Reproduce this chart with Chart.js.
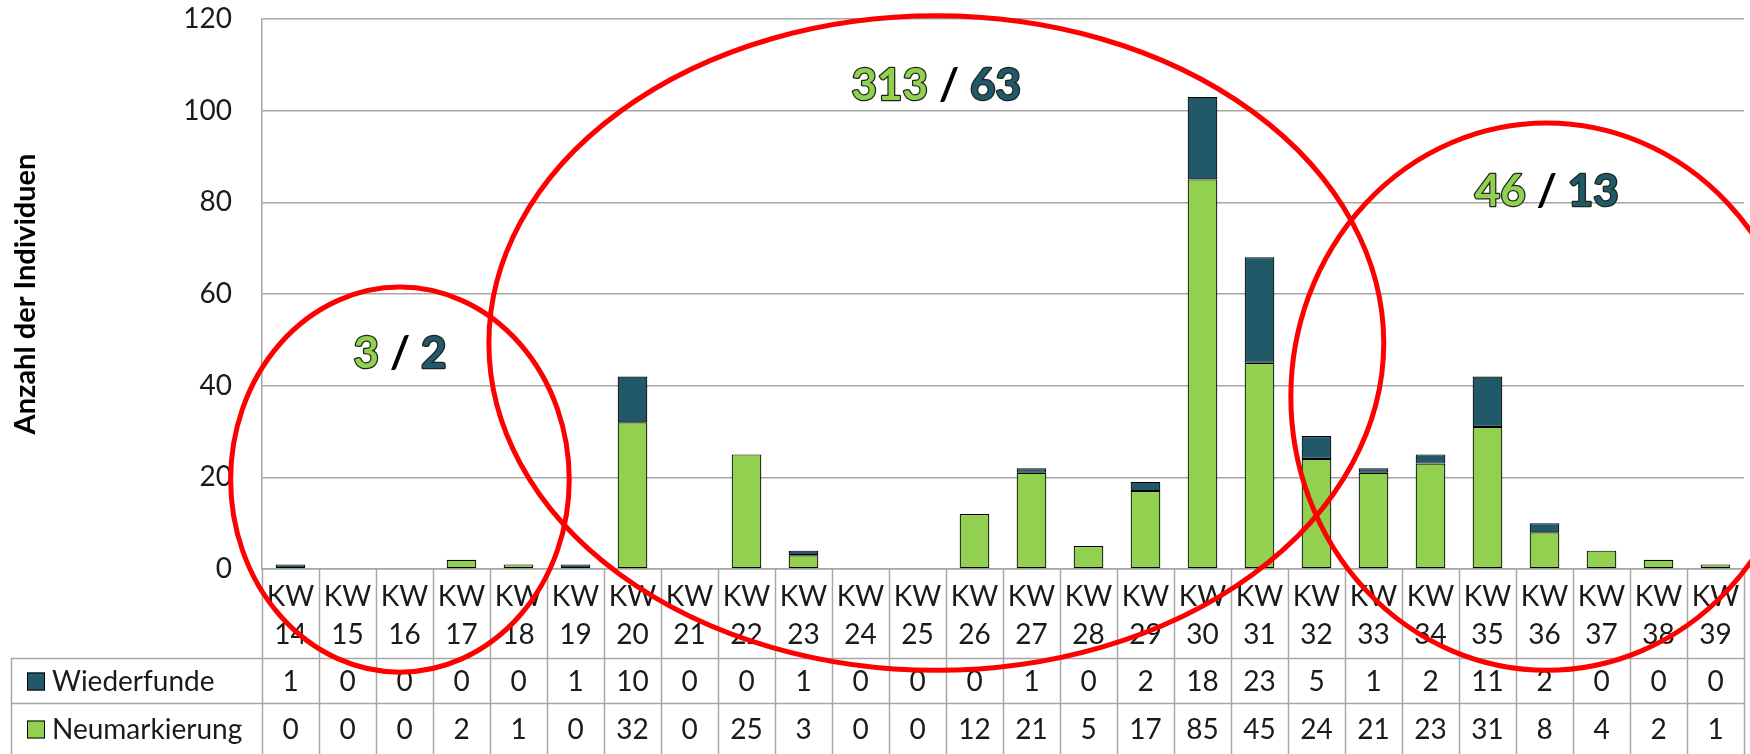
<!DOCTYPE html>
<html>
<head>
<meta charset="utf-8">
<script src="https://cdn.jsdelivr.net/npm/chart.js@4"></script>
<style>
  html, body { margin: 0; padding: 0; background: #fff; }
</style>
</head>
<body>
<canvas id="chart" width="1750" height="754"></canvas>
<script>
const weeks = ["KW 14", "KW 15", "KW 16", "KW 17", "KW 18", "KW 19", "KW 20", "KW 21", "KW 22",
  "KW 23", "KW 24", "KW 25", "KW 26", "KW 27", "KW 28", "KW 29", "KW 30", "KW 31", "KW 32",
  "KW 33", "KW 34", "KW 35", "KW 36", "KW 37", "KW 38", "KW 39"];
const wiederfunde = [1, 0, 0, 0, 0, 1, 10, 0, 0, 1, 0, 0, 0, 1, 0, 2, 18, 23, 5, 1, 2, 11, 2, 0, 0, 0];
const neumarkierung = [0, 0, 0, 2, 1, 0, 32, 0, 25, 3, 0, 0, 12, 21, 5, 17, 85, 45, 24, 21, 23, 31, 8, 4, 2, 1];
const yMax = 120;
const yStep = 20;
const yTitle = "Anzahl der Individuen";

// week index ranges that were circled, first..last
const periods = [[0, 5], [6, 20], [21, 25]];

// ring and label placement, in category / value units
const rings = [
  { cx: 1.92, cy: 19.5, rx: 2.97, ry: 42, ty: 47 },
  { cx: 11.33, cy: 49.3, rx: 7.85, ry: 71.4, ty: 105.5 },
  { cx: 22.04, cy: 37.6, rx: 4.49, ry: 59.7, ty: 82.3 },
];

const GREEN = "#92D050";
const TEAL = "#215968";
const GRID = "#a6a6a6";
const FONT = "Lato, 'Open Sans', sans-serif";

const sum = (arr, [a, b]) => arr.slice(a, b + 1).reduce((s, v) => s + v, 0);

// data table under the axis, Excel style
const tablePlugin = {
  id: "dataTable",
  afterDraw(chart) {
    const { ctx, chartArea, scales: { x } } = chart;
    const n = weeks.length;
    const colW = (chartArea.right - chartArea.left) / n;
    const headTop = chartArea.bottom;
    const headBottom = x.bottom;
    const rowH = 45;
    const tableLeft = 11;
    const H = chart.height;

    ctx.save();
    ctx.strokeStyle = GRID;
    ctx.lineWidth = 1.5;
    ctx.beginPath();
    for (let i = 0; i <= n; i++) {
      const xp = Math.round(chartArea.left + i * colW) + 0.5;
      ctx.moveTo(xp, headTop);
      ctx.lineTo(xp, H);
    }
    ctx.moveTo(tableLeft + 0.5, headBottom);
    ctx.lineTo(tableLeft + 0.5, H);
    ctx.moveTo(tableLeft, headBottom + 0.5);
    ctx.lineTo(chartArea.right, headBottom + 0.5);
    ctx.moveTo(tableLeft, headBottom + rowH + 0.5);
    ctx.lineTo(chartArea.right, headBottom + rowH + 0.5);
    ctx.stroke();

    const rows = [
      { label: "Wiederfunde", data: wiederfunde, color: TEAL },
      { label: "Neumarkierung", data: neumarkierung, color: GREEN },
    ];
    ctx.font = "28px " + FONT;
    ctx.textBaseline = "middle";
    rows.forEach((row, r) => {
      const top = headBottom + r * rowH;
      const bottom = r === rows.length - 1 ? H : top + rowH;
      const cy = (top + bottom) / 2 + 1;
      ctx.fillStyle = row.color;
      ctx.fillRect(27, cy - 9, 18, 18);
      ctx.strokeStyle = "#000";
      ctx.lineWidth = 1;
      ctx.strokeRect(27.5, cy - 8.5, 17, 17);
      ctx.fillStyle = "#1a1a1a";
      ctx.textAlign = "left";
      ctx.fillText(row.label, 52, cy);
      ctx.textAlign = "center";
      row.data.forEach((v, i) => {
        ctx.fillText(String(v), x.getPixelForValue(i), cy);
      });
    });
    ctx.restore();
  },
};

// red rings round the three periods, with their totals
const ringPlugin = {
  id: "rings",
  afterDraw(chart) {
    const { ctx, scales: { x, y } } = chart;
    const colW = x.getPixelForValue(1) - x.getPixelForValue(0);
    const unit = y.getPixelForValue(0) - y.getPixelForValue(1);
    ctx.save();
    rings.forEach((g, k) => {
      ctx.beginPath();
      ctx.ellipse(x.getPixelForValue(g.cx), y.getPixelForValue(g.cy), g.rx * colW, g.ry * unit, 0, 0, Math.PI * 2);
      ctx.strokeStyle = "#ff0000";
      ctx.lineWidth = 5;
      ctx.stroke();

      const parts = [
        [String(sum(neumarkierung, periods[k])), GREEN, true],
        [" / ", "#000", false],
        [String(sum(wiederfunde, periods[k])), TEAL, true],
      ];
      ctx.font = "bold 44px " + FONT;
      ctx.textBaseline = "middle";
      ctx.textAlign = "left";
      const total = parts.reduce((s, p) => s + ctx.measureText(p[0]).width, 0);
      let cur = x.getPixelForValue(g.cx) - total / 2;
      const py = y.getPixelForValue(g.ty);
      parts.forEach(([t, c, outline]) => {
        if (outline) {
          ctx.lineWidth = 2.5;
          ctx.strokeStyle = "#1c261c";
          ctx.lineJoin = "round";
          ctx.strokeText(t, cur, py);
        }
        ctx.fillStyle = c;
        ctx.fillText(t, cur, py);
        cur += ctx.measureText(t).width;
      });
    });
    ctx.restore();
  },
};

new Chart(document.getElementById("chart"), {
  type: "bar",
  data: {
    labels: weeks,
    datasets: [
      {
        label: "Neumarkierung",
        data: neumarkierung,
        backgroundColor: GREEN,
        borderColor: "#000",
        borderWidth: 1.2,
        borderSkipped: false,
      },
      {
        label: "Wiederfunde",
        data: wiederfunde,
        backgroundColor: TEAL,
        borderColor: "#000",
        borderWidth: 1.2,
        borderSkipped: false,
      },
    ],
  },
  options: {
    responsive: false,
    animation: false,
    devicePixelRatio: 1,
    layout: { padding: { left: 0, top: 19, right: 6, bottom: 96 } },
    datasets: { bar: { categoryPercentage: 1, barPercentage: 0.52 } },
    plugins: { legend: { display: false }, tooltip: { enabled: false } },
    scales: {
      x: {
        stacked: true,
        grid: { display: false },
        border: { color: GRID, width: 1.5 },
        ticks: {
          color: "#1a1a1a",
          font: { family: FONT, size: 28, lineHeight: 1.36 },
          padding: 1,
          maxRotation: 0,
          autoSkip: false,
          callback: (v, i) => weeks[i].split(" "),
        },
        afterFit: (s) => { s.height = 89; s.paddingLeft = 0; s.paddingRight = 0; },
      },
      y: {
        stacked: true,
        min: 0,
        max: yMax,
        grid: { color: GRID, lineWidth: 1.5, drawTicks: false },
        border: { color: GRID, width: 1.5 },
        ticks: {
          stepSize: yStep,
          color: "#1a1a1a",
          font: { family: FONT, size: 28 },
          padding: 30,
        },
        title: {
          display: true,
          text: yTitle,
          color: "#000",
          font: { family: FONT, size: 29, weight: "bold" },
          padding: { top: 8, bottom: 0 },
        },
        afterFit: (s) => { s.width = 262; s.paddingTop = 0; s.paddingBottom = 0; },
      },
    },
  },
  plugins: [tablePlugin, ringPlugin],
});
</script>
</body>
</html>
